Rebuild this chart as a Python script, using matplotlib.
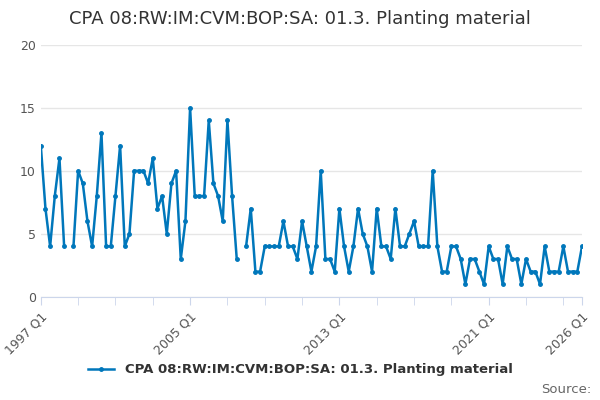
import numpy as np
import matplotlib.pyplot as plt

# Datos trimestrales 1997 Q1 - 2026 Q1 (None = sin dato)
valores = [12, 7, 4, 8, 11, 4, None, 4, 10, 9, 6, 4, 8, 13, 4, 4, 8, 12, 4, 5,
           10, 10, 10, 9, 11, 7, 8, 5, 9, 10, 3, 6, 15, 8, 8, 8, 14, 9, 8, 6,
           14, 8, 3, None, 4, 7, 2, 2, 4, 4, 4, 4, 6, 4, 4, 3, 6, 4, 2, 4,
           10, 3, 3, 2, 7, 4, 2, 4, 7, 5, 4, 2, 7, 4, 4, 3, 7, 4, 4, 5,
           6, 4, 4, 4, 10, 4, 2, 2, 4, 4, 3, 1, 3, 3, 2, 1, 4, 3, 3, 1,
           4, 3, 3, 1, 3, 2, 2, 1, 4, 2, 2, 2, 4, 2, 2, 2, 4]
etiquetas = ["1997 Q1", "2005 Q1", "2013 Q1", "2021 Q1", "2026 Q1"]
pos_etiquetas = [0, 32, 64, 96, 116]
yticks = [0, 5, 10, 15, 20]
serie = "CPA 08:RW:IM:CVM:BOP:SA: 01.3. Planting material"

color = "#0077bb"
y = np.array([np.nan if v is None else v for v in valores], dtype=float)
x = np.arange(len(y))

fig = plt.figure(figsize=(6, 4), dpi=100)
ax = fig.add_axes([0.068, 0.258, 0.902, 0.63])
ax.plot(x, y, color=color, lw=1.8, marker="o", ms=2.5, label=serie)

ax.set_xlim(0, 116)
ax.set_ylim(0, 20)
ax.set_yticks(yticks)
ax.set_xticks(pos_etiquetas)
ax.set_xticklabels(etiquetas, rotation=45, ha="right", rotation_mode="anchor")
ax.set_xticks(np.arange(0, 117, 8), minor=True)
ax.tick_params(axis="x", which="both", length=6, color="#ccd6eb", labelsize=9, labelcolor="#555555")
ax.tick_params(axis="y", length=0, labelsize=9, labelcolor="#555555")
ax.grid(axis="y", color="#e6e6e6", lw=1)
ax.set_axisbelow(True)
for s in ["top", "right", "left"]:
    ax.spines[s].set_visible(False)
ax.spines["bottom"].set_color("#ccd6eb")

fig.suptitle(serie, y=0.975, fontsize=13, color="#333333")
fig.legend(loc="lower center", bbox_to_anchor=(0.5, 0.03), frameon=False,
           prop={"weight": "bold", "size": 9.5}, labelcolor="#333333")
fig.text(0.985, 0.01, "Source:", ha="right", va="bottom", fontsize=9.5, color="#666666")

fig.savefig("out.png")
